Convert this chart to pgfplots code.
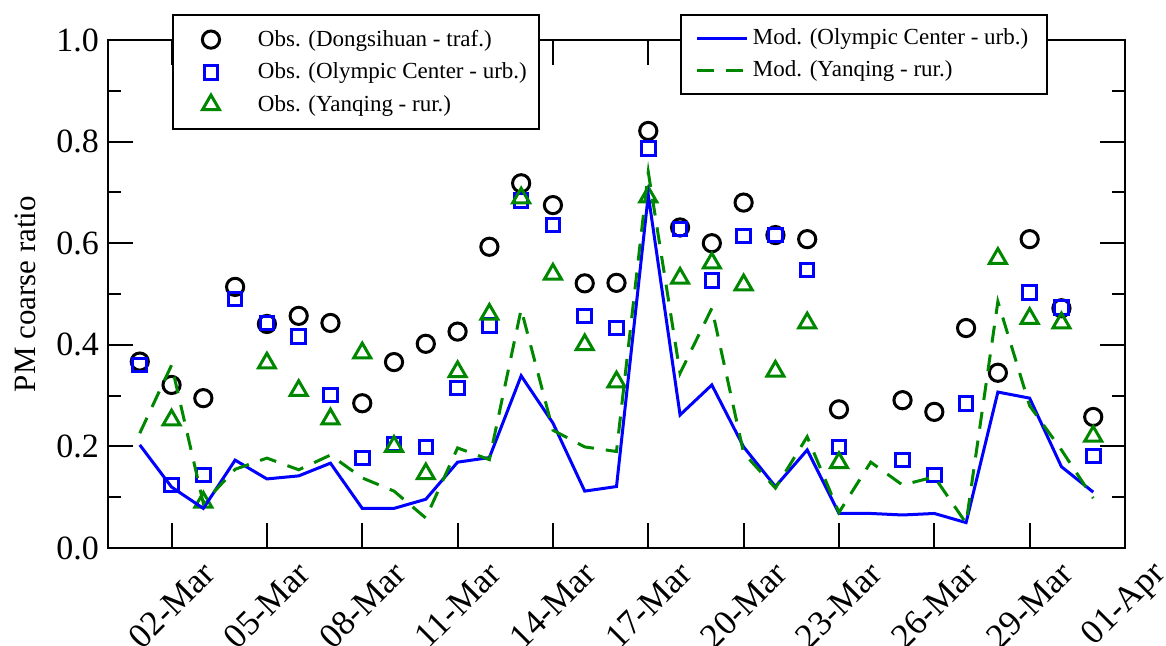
\documentclass[border=0pt]{standalone}
\usepackage{fontspec}
\setmainfont{Liberation Serif}
\usepackage{pgfplots}
\pgfplotsset{compat=1.18}
\definecolor{obsgreen}{RGB}{0,135,0}
\definecolor{obsblue}{RGB}{0,0,255}
\begin{document}
\begin{tikzpicture}
\useasboundingbox (-54pt,-48.5pt) rectangle (529pt,274pt);
\pgfplotsset{base/.style={
  scale only axis, width=508.5pt, height=254pt,
  xmin=0, xmax=32, ymin=0, ymax=1,
  at={(0pt,0pt)}, anchor=south west}}
\begin{axis}[base,
  axis line style={line width=1pt},
  tick align=inside, tick style={line width=1pt, black},
  major tick length=12.5pt, minor tick length=6.5pt,
  xtick={2,5,8,11,14,17,20,23,26,29,32},
  xticklabels={02-Mar,05-Mar,08-Mar,11-Mar,14-Mar,17-Mar,20-Mar,23-Mar,26-Mar,29-Mar,01-Apr},
  ytick={0,0.2,0.4,0.6,0.8,1.0}, minor y tick num=1,
  /pgf/number format/assume math mode=true,
  yticklabel style={font=\fontsize{17}{20}\selectfont, xshift=-1pt,
    /pgf/number format/.cd, fixed, fixed zerofill, precision=1},
  xticklabel style={font=\fontsize{17.5}{20}\selectfont, rotate=45, anchor=center},
  xticklabel shift=28.5pt,
  ylabel={PM coarse ratio},
  ylabel style={font=\fontsize{15.5}{18}\selectfont, at={(axis description cs:-0.0816,0.5)}, anchor=center},
  legend cell align=left,
  legend image code/.code={\path[draw=none] (0pt,0pt) (36.5pt,0pt); \draw[#1] plot coordinates {(17pt,0pt)};},
  legend style={at={(axis description cs:0.0629,1.0512)}, anchor=north west,
    draw=black, line width=1pt, fill=white, font=\fontsize{11.5}{13.5}\selectfont,
    inner xsep=2pt, inner ysep=5.5pt, row sep=2.8pt, nodes={inner xsep=4pt}},
]
\addplot[only marks, mark=o, mark size=4.3pt, line width=1.5pt, black] coordinates {
(1,0.367) (2,0.321) (3,0.295) (4,0.514) (5,0.441) (6,0.457) (7,0.443) (8,0.285)
(9,0.366) (10,0.402) (11,0.426) (12,0.593) (13,0.718) (14,0.675) (15,0.521) (16,0.522)
(17,0.821) (18,0.631) (19,0.600) (20,0.680) (21,0.616) (22,0.608) (23,0.273)
(25,0.291) (26,0.268) (27,0.433) (28,0.345) (29,0.608) (30,0.472) (31,0.258)};
\addlegendentry{Obs. (Dongsihuan - traf.)}
\addplot[only marks, mark=square, mark size=3.4pt, line width=1.5pt, obsblue] coordinates {
(1,0.360) (2,0.124) (3,0.144) (4,0.490) (5,0.443) (6,0.416) (7,0.301) (8,0.177)
(9,0.205) (10,0.199) (11,0.315) (12,0.438) (13,0.684) (14,0.636) (15,0.457) (16,0.433)
(17,0.787) (18,0.628) (19,0.527) (20,0.614) (21,0.616) (22,0.547) (23,0.199)
(25,0.173) (26,0.144) (27,0.285) (29,0.503) (30,0.474) (31,0.181)};
\addlegendentry{Obs. (Olympic Center - urb.)}
\addplot[only marks, mark=triangle, mark size=4.9pt, line width=1.5pt, obsgreen] coordinates {
(2,0.252) (3,0.090) (5,0.364) (6,0.310) (7,0.254) (8,0.384) (9,0.200) (10,0.146)
(11,0.347) (12,0.460) (13,0.689) (14,0.539) (15,0.400) (16,0.327) (17,0.691) (18,0.531)
(19,0.561) (20,0.518) (21,0.348) (22,0.443) (23,0.168) (28,0.570) (29,0.452) (30,0.443) (31,0.220)};
\addlegendentry{Obs. (Yanqing - rur.)}
\end{axis}
\begin{axis}[base, hide axis,
  legend cell align=left,
  legend image code/.code={\draw[#1] (0pt,0pt) -- (25pt,0pt);},
  legend style={at={(axis description cs:0.5624,1.0512)}, anchor=north west,
    draw=black, line width=1pt, fill=white, font=\fontsize{11.5}{13.5}\selectfont,
    inner xsep=7.5pt, inner ysep=5pt, row sep=2.5pt},
]
\addplot[obsblue, line width=1.5pt] coordinates {
(1,0.203) (2,0.120) (3,0.078) (4,0.173) (5,0.136) (6,0.142) (7,0.167) (8,0.078)
(9,0.078) (10,0.096) (11,0.169) (12,0.178) (13,0.339) (14,0.246) (15,0.112) (16,0.121)
(17,0.695) (18,0.262) (19,0.321) (20,0.199) (21,0.121) (22,0.193) (23,0.068) (24,0.068)
(25,0.065) (26,0.068) (27,0.050) (28,0.307) (29,0.295) (30,0.160) (31,0.110)};
\addlegendentry{Mod. (Olympic Center - urb.)}
\addplot[obsgreen, line width=1.5pt, dash pattern=on 8.5pt off 6pt] coordinates {
(1,0.226) (2,0.360) (3,0.088) (4,0.155) (5,0.177) (6,0.154) (7,0.183) (8,0.138)
(9,0.112) (10,0.059) (11,0.197) (12,0.174) (13,0.470) (14,0.232) (15,0.199) (16,0.190)
(17,0.740) (18,0.344) (19,0.472) (20,0.187) (21,0.118) (22,0.219) (23,0.070) (24,0.169)
(25,0.124) (26,0.140) (27,0.049) (28,0.485) (29,0.280) (30,0.193) (31,0.098)};
\addlegendentry{Mod. (Yanqing - rur.)}
\end{axis}
\end{tikzpicture}
\end{document}
